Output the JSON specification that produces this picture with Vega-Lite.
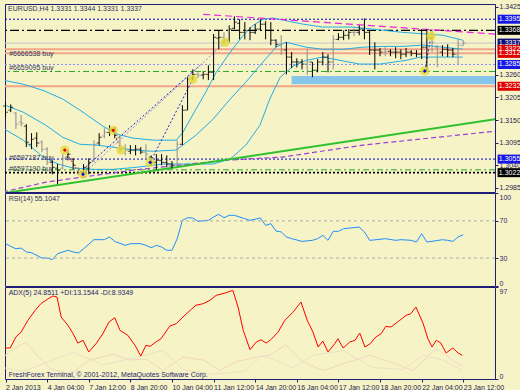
{
"$schema": "https://vega.github.io/schema/vega-lite/v6.json",
"background": "#F6F3C6",
"padding": {"left": 2, "top": 2, "right": 0, "bottom": 0},
"bounds": "flush",
"spacing": 1,
"config": {
  "font": "Liberation Sans",
  "view": {"stroke": "#1E1E78", "strokeWidth": 1},
  "axis": {"labelFont": "Liberation Sans", "labelFontSize": 7, "labelColor": "#1E1E50", "tickColor": "#1E1E78", "tickSize": 3, "domain": false, "grid": false, "labelPadding": 1},
  "text": {"font": "Liberation Sans", "fontSize": 7},
  "legend": {"disable": true}
},
"datasets": {
  "bars": [
    {"i":0,"o":1.3184,"h":1.3193,"l":1.3157,"c":1.3169,"d":"up"},
    {"i":1,"o":1.3174,"h":1.3188,"l":1.3169,"c":1.3181,"d":"up"},
    {"i":2,"o":1.3167,"h":1.3169,"l":1.3128,"c":1.3140,"d":"down"},
    {"i":3,"o":1.3145,"h":1.3162,"l":1.3135,"c":1.3142,"d":"down"},
    {"i":4,"o":1.3135,"h":1.3140,"l":1.3084,"c":1.3096,"d":"up"},
    {"i":5,"o":1.3091,"h":1.3118,"l":1.3079,"c":1.3103,"d":"up"},
    {"i":6,"o":1.3106,"h":1.3120,"l":1.3084,"c":1.3094,"d":"up"},
    {"i":7,"o":1.3096,"h":1.3101,"l":1.3072,"c":1.3079,"d":"down"},
    {"i":8,"o":1.3079,"h":1.3084,"l":1.3040,"c":1.3047,"d":"down"},
    {"i":9,"o":1.3047,"h":1.3052,"l":1.3018,"c":1.3035,"d":"up"},
    {"i":10,"o":1.3033,"h":1.3043,"l":1.2994,"c":1.3028,"d":"up"},
    {"i":11,"o":1.3033,"h":1.3067,"l":1.3030,"c":1.3057,"d":"down"},
    {"i":12,"o":1.3060,"h":1.3077,"l":1.3052,"c":1.3067,"d":"up"},
    {"i":13,"o":1.3055,"h":1.3057,"l":1.3030,"c":1.3040,"d":"up"},
    {"i":14,"o":1.3033,"h":1.3035,"l":1.3016,"c":1.3023,"d":"down"},
    {"i":15,"o":1.3023,"h":1.3043,"l":1.3016,"c":1.3035,"d":"up"},
    {"i":16,"o":1.3033,"h":1.3057,"l":1.3018,"c":1.3047,"d":"up"},
    {"i":17,"o":1.3052,"h":1.3101,"l":1.3047,"c":1.3091,"d":"down"},
    {"i":18,"o":1.3094,"h":1.3118,"l":1.3089,"c":1.3108,"d":"up"},
    {"i":19,"o":1.3111,"h":1.3130,"l":1.3106,"c":1.3120,"d":"down"},
    {"i":20,"o":1.3120,"h":1.3137,"l":1.3111,"c":1.3128,"d":"up"},
    {"i":21,"o":1.3125,"h":1.3133,"l":1.3106,"c":1.3113,"d":"up"},
    {"i":22,"o":1.3108,"h":1.3113,"l":1.3072,"c":1.3084,"d":"down"},
    {"i":23,"o":1.3081,"h":1.3091,"l":1.3064,"c":1.3077,"d":"down"},
    {"i":24,"o":1.3074,"h":1.3089,"l":1.3067,"c":1.3077,"d":"up"},
    {"i":25,"o":1.3077,"h":1.3089,"l":1.3064,"c":1.3079,"d":"up"},
    {"i":26,"o":1.3079,"h":1.3084,"l":1.3067,"c":1.3072,"d":"up"},
    {"i":27,"o":1.3072,"h":1.3091,"l":1.3055,"c":1.3067,"d":"down"},
    {"i":28,"o":1.3060,"h":1.3064,"l":1.3038,"c":1.3047,"d":"up"},
    {"i":29,"o":1.3047,"h":1.3067,"l":1.3030,"c":1.3052,"d":"up"},
    {"i":30,"o":1.3052,"h":1.3067,"l":1.3040,"c":1.3047,"d":"up"},
    {"i":31,"o":1.3047,"h":1.3064,"l":1.3035,"c":1.3043,"d":"up"},
    {"i":32,"o":1.3043,"h":1.3050,"l":1.3033,"c":1.3040,"d":"up"},
    {"i":33,"o":1.3040,"h":1.3101,"l":1.3038,"c":1.3091,"d":"down"},
    {"i":34,"o":1.3091,"h":1.3186,"l":1.3089,"c":1.3174,"d":"up"},
    {"i":35,"o":1.3174,"h":1.3254,"l":1.3174,"c":1.3249,"d":"up"},
    {"i":36,"o":1.3252,"h":1.3273,"l":1.3247,"c":1.3261,"d":"up"},
    {"i":37,"o":1.3261,"h":1.3266,"l":1.3252,"c":1.3259,"d":"down"},
    {"i":38,"o":1.3259,"h":1.3269,"l":1.3249,"c":1.3261,"d":"up"},
    {"i":39,"o":1.3261,"h":1.3283,"l":1.3247,"c":1.3266,"d":"up"},
    {"i":40,"o":1.3266,"h":1.3359,"l":1.3247,"c":1.3351,"d":"up"},
    {"i":41,"o":1.3349,"h":1.3368,"l":1.3322,"c":1.3351,"d":"up"},
    {"i":42,"o":1.3351,"h":1.3363,"l":1.3334,"c":1.3344,"d":"down"},
    {"i":43,"o":1.3344,"h":1.3380,"l":1.3339,"c":1.3371,"d":"up"},
    {"i":44,"o":1.3373,"h":1.3402,"l":1.3371,"c":1.3388,"d":"up"},
    {"i":45,"o":1.3385,"h":1.3395,"l":1.3346,"c":1.3363,"d":"up"},
    {"i":46,"o":1.3363,"h":1.3388,"l":1.3346,"c":1.3368,"d":"up"},
    {"i":47,"o":1.3368,"h":1.3376,"l":1.3344,"c":1.3363,"d":"up"},
    {"i":48,"o":1.3363,"h":1.3383,"l":1.3359,"c":1.3371,"d":"up"},
    {"i":49,"o":1.3371,"h":1.3395,"l":1.3368,"c":1.3383,"d":"up"},
    {"i":50,"o":1.3383,"h":1.3390,"l":1.3346,"c":1.3368,"d":"up"},
    {"i":51,"o":1.3368,"h":1.3388,"l":1.3332,"c":1.3344,"d":"up"},
    {"i":52,"o":1.3344,"h":1.3346,"l":1.3327,"c":1.3334,"d":"up"},
    {"i":53,"o":1.3334,"h":1.3356,"l":1.3308,"c":1.3320,"d":"down"},
    {"i":54,"o":1.3320,"h":1.3339,"l":1.3261,"c":1.3303,"d":"up"},
    {"i":55,"o":1.3303,"h":1.3315,"l":1.3276,"c":1.3291,"d":"up"},
    {"i":56,"o":1.3291,"h":1.3300,"l":1.3278,"c":1.3291,"d":"up"},
    {"i":57,"o":1.3291,"h":1.3298,"l":1.3273,"c":1.3286,"d":"up"},
    {"i":58,"o":1.3286,"h":1.3322,"l":1.3259,"c":1.3291,"d":"down"},
    {"i":59,"o":1.3291,"h":1.3291,"l":1.3254,"c":1.3271,"d":"up"},
    {"i":60,"o":1.3271,"h":1.3298,"l":1.3266,"c":1.3291,"d":"up"},
    {"i":61,"o":1.3291,"h":1.3315,"l":1.3283,"c":1.3303,"d":"up"},
    {"i":62,"o":1.3303,"h":1.3310,"l":1.3266,"c":1.3291,"d":"up"},
    {"i":63,"o":1.3291,"h":1.3356,"l":1.3273,"c":1.3346,"d":"down"},
    {"i":64,"o":1.3346,"h":1.3361,"l":1.3344,"c":1.3351,"d":"up"},
    {"i":65,"o":1.3351,"h":1.3368,"l":1.3344,"c":1.3356,"d":"up"},
    {"i":66,"o":1.3356,"h":1.3371,"l":1.3346,"c":1.3363,"d":"up"},
    {"i":67,"o":1.3363,"h":1.3373,"l":1.3354,"c":1.3363,"d":"down"},
    {"i":68,"o":1.3363,"h":1.3380,"l":1.3356,"c":1.3371,"d":"up"},
    {"i":69,"o":1.3371,"h":1.3397,"l":1.3346,"c":1.3363,"d":"up"},
    {"i":70,"o":1.3363,"h":1.3368,"l":1.3308,"c":1.3320,"d":"up"},
    {"i":71,"o":1.3320,"h":1.3339,"l":1.3273,"c":1.3320,"d":"up"},
    {"i":72,"o":1.3320,"h":1.3325,"l":1.3305,"c":1.3315,"d":"up"},
    {"i":73,"o":1.3315,"h":1.3327,"l":1.3305,"c":1.3317,"d":"down"},
    {"i":74,"o":1.3317,"h":1.3322,"l":1.3305,"c":1.3315,"d":"up"},
    {"i":75,"o":1.3315,"h":1.3327,"l":1.3300,"c":1.3315,"d":"up"},
    {"i":76,"o":1.3315,"h":1.3322,"l":1.3298,"c":1.3310,"d":"up"},
    {"i":77,"o":1.3310,"h":1.3325,"l":1.3303,"c":1.3315,"d":"up"},
    {"i":78,"o":1.3315,"h":1.3320,"l":1.3305,"c":1.3312,"d":"up"},
    {"i":79,"o":1.3312,"h":1.3320,"l":1.3303,"c":1.3310,"d":"up"},
    {"i":80,"o":1.3310,"h":1.3371,"l":1.3298,"c":1.3327,"d":"up"},
    {"i":81,"o":1.3327,"h":1.3371,"l":1.3266,"c":1.3351,"d":"up"},
    {"i":82,"o":1.3351,"h":1.3371,"l":1.3315,"c":1.3339,"d":"down"},
    {"i":83,"o":1.3327,"h":1.3332,"l":1.3278,"c":1.3315,"d":"down"},
    {"i":84,"o":1.3315,"h":1.3332,"l":1.3305,"c":1.3322,"d":"up"},
    {"i":85,"o":1.3322,"h":1.3334,"l":1.3303,"c":1.3320,"d":"up"},
    {"i":86,"o":1.3320,"h":1.3325,"l":1.3303,"c":1.3310,"d":"up"},
    {"i":87,"o":1.3310,"h":1.3346,"l":1.3286,"c":1.3332,"d":"down"},
    {"i":88,"o":1.3331,"h":1.3344,"l":1.3331,"c":1.3337,"d":"down"}
  ],
  "bb": [
    {"band":"u","i":-0.5,"p":1.3247},{"band":"u","i":3.4,"p":1.3237},{"band":"u","i":7.2,"p":1.3222},{"band":"u","i":11.0,"p":1.3201},{"band":"u","i":14.9,"p":1.3169},{"band":"u","i":18.7,"p":1.3135},{"band":"u","i":21.6,"p":1.3115},{"band":"u","i":24.5,"p":1.3106},{"band":"u","i":28.4,"p":1.3101},{"band":"u","i":32.8,"p":1.3101},{"band":"u","i":34.1,"p":1.3120},{"band":"u","i":36.6,"p":1.3176},{"band":"u","i":38.5,"p":1.3218},{"band":"u","i":40.5,"p":1.3266},{"band":"u","i":43.2,"p":1.3315},{"band":"u","i":45.7,"p":1.3356},{"band":"u","i":47.6,"p":1.3380},{"band":"u","i":49.5,"p":1.3395},{"band":"u","i":51.4,"p":1.3398},{"band":"u","i":53.3,"p":1.3393},{"band":"u","i":57.2,"p":1.3383},{"band":"u","i":61.0,"p":1.3376},{"band":"u","i":66.8,"p":1.3376},{"band":"u","i":70.6,"p":1.3371},{"band":"u","i":76.4,"p":1.3363},{"band":"u","i":84.1,"p":1.3356},{"band":"u","i":87.9,"p":1.3344},
    {"band":"m","i":-0.5,"p":1.3188},{"band":"m","i":3.4,"p":1.3169},{"band":"m","i":7.8,"p":1.3137},{"band":"m","i":11.0,"p":1.3108},{"band":"m","i":14.3,"p":1.3091},{"band":"m","i":17.4,"p":1.3089},{"band":"m","i":20.7,"p":1.3084},{"band":"m","i":24.5,"p":1.3077},{"band":"m","i":28.4,"p":1.3074},{"band":"m","i":32.8,"p":1.3077},{"band":"m","i":34.1,"p":1.3089},{"band":"m","i":36.6,"p":1.3113},{"band":"m","i":39.9,"p":1.3152},{"band":"m","i":43.2,"p":1.3201},{"band":"m","i":46.2,"p":1.3242},{"band":"m","i":49.5,"p":1.3291},{"band":"m","i":52.0,"p":1.3327},{"band":"m","i":53.9,"p":1.3339},{"band":"m","i":57.8,"p":1.3327},{"band":"m","i":61.0,"p":1.3322},{"band":"m","i":64.9,"p":1.3322},{"band":"m","i":68.7,"p":1.3327},{"band":"m","i":72.6,"p":1.3329},{"band":"m","i":76.4,"p":1.3329},{"band":"m","i":80.3,"p":1.3332},{"band":"m","i":84.1,"p":1.3327},{"band":"m","i":87.9,"p":1.3322},
    {"band":"l","i":-0.5,"p":1.3130},{"band":"l","i":3.4,"p":1.3101},{"band":"l","i":7.2,"p":1.3060},{"band":"l","i":10.1,"p":1.3043},{"band":"l","i":13.0,"p":1.3033},{"band":"l","i":16.8,"p":1.3030},{"band":"l","i":20.7,"p":1.3030},{"band":"l","i":25.1,"p":1.3035},{"band":"l","i":30.3,"p":1.3043},{"band":"l","i":39.9,"p":1.3043},{"band":"l","i":43.2,"p":1.3055},{"band":"l","i":46.2,"p":1.3089},{"band":"l","i":48.9,"p":1.3137},{"band":"l","i":50.8,"p":1.3201},{"band":"l","i":52.8,"p":1.3254},{"band":"l","i":55.3,"p":1.3281},{"band":"l","i":57.8,"p":1.3295},{"band":"l","i":61.0,"p":1.3303},{"band":"l","i":64.3,"p":1.3295},{"band":"l","i":68.1,"p":1.3286},{"band":"l","i":72.0,"p":1.3286},{"band":"l","i":77.0,"p":1.3295},{"band":"l","i":79.7,"p":1.3303},{"band":"l","i":83.5,"p":1.3303},{"band":"l","i":87.9,"p":1.3303}
  ],
  "ma": [{"i":-0.5,"p":1.2975},{"i":7.8,"p":1.2999},{"i":24.5,"p":1.3028},{"i":41.8,"p":1.3052},{"i":53.3,"p":1.3060},{"i":68.7,"p":1.3089},{"i":94.3,"p":1.3123}],
  "trend": [{"i":-0.5,"p":1.2972},{"i":94.3,"p":1.3152}],
  "magenta": [{"i":38.0,"p":1.3407},{"i":94.1,"p":1.3359}],
  "zone": [{"i":55.0,"i2":94.1,"p":1.3257,"p2":1.3237}],
  "levels": [
    {"p":1.3322,"kind":"salmon"},{"p":1.3312,"kind":"salmon"},{"p":1.3232,"kind":"salmon"},
    {"p":1.3337,"kind":"bid"},
    {"p":1.3268,"kind":"green"},{"p":1.3029,"kind":"green"},
    {"p":1.3395,"kind":"blue"},{"p":1.3055,"kind":"blue"},
    {"p":1.3285,"kind":"lavender"},
    {"p":1.3368,"kind":"dashdot"},
    {"p":1.3022,"kind":"dotted"}
  ],
  "tradelines": [
    {"id":"a","kind":"blue","i":14.3,"p":1.3023},{"id":"a","kind":"blue","i":37.4,"p":1.3283},
    {"id":"b","kind":"lite","i":14.9,"p":1.3018},{"id":"b","kind":"lite","i":42.2,"p":1.3339},
    {"id":"c","kind":"blue","i":27.8,"p":1.3047},{"id":"c","kind":"blue","i":36.0,"p":1.3249},
    {"id":"d","kind":"red","i":11.4,"p":1.3077},{"id":"d","kind":"red","i":14.0,"p":1.3023},
    {"id":"e","kind":"red","i":20.7,"p":1.3125},{"id":"e","kind":"red","i":22.2,"p":1.3077},
    {"id":"f","kind":"blue","i":80.6,"p":1.3269},{"id":"f","kind":"blue","i":81.8,"p":1.3354}
  ],
  "markers": [
    {"i":11.4,"p":1.3077,"side":"red"},{"i":14.9,"p":1.3018,"side":"blue"},{"i":20.7,"p":1.3125,"side":"red"},
    {"i":22.2,"p":1.3077,"side":"none"},{"i":27.8,"p":1.3047,"side":"blue"},{"i":36.0,"p":1.3249,"side":"none"},
    {"i":42.2,"p":1.3339,"side":"none"},{"i":81.8,"p":1.3354,"side":"none"},{"i":80.6,"p":1.3269,"side":"blue"}
  ],
  "notes": [
    {"i":0.5,"p":1.3419,"text":"EURUSD,H4  1.3331 1.3344 1.3331 1.3337"},
    {"i":0.7,"p":1.3310,"text":"#6666538 buy"},
    {"i":0.7,"p":1.3276,"text":"#6659095 buy"},
    {"i":0.7,"p":1.3058,"text":"#6597187 buy"},
    {"i":0.7,"p":1.3031,"text":"#6597190 buy"}
  ],
  "tags": [
    {"p":1.3395,"label":"1.3395","kind":"blue"},
    {"p":1.3368,"label":"1.3368","kind":"black"},
    {"p":1.3337,"label":"1.3337","kind":"navy"},
    {"p":1.3322,"label":"1.3322","kind":"red"},
    {"p":1.3312,"label":"1.3312","kind":"red"},
    {"p":1.3285,"label":"1.3285","kind":"blue"},
    {"p":1.3232,"label":"1.3232","kind":"red"},
    {"p":1.3055,"label":"1.3055","kind":"blue"},
    {"p":1.3022,"label":"1.3022","kind":"black"}
  ],
  "rsi": [
    {"i":0,"v":45.5},{"i":1,"v":42.7},{"i":2,"v":40},{"i":3,"v":40.8},{"i":4,"v":36.6},{"i":5,"v":35.8},{"i":7,"v":30.1},{"i":8,"v":30.1},{"i":9,"v":28.3},{"i":10,"v":34.7},{"i":12,"v":38.4},{"i":13,"v":36.6},{"i":14,"v":35.5},{"i":15,"v":40},{"i":17,"v":49.8},{"i":19,"v":49.8},{"i":20,"v":52.7},{"i":21,"v":48},{"i":23,"v":43.7},{"i":24,"v":45.5},{"i":26,"v":45.5},{"i":27,"v":43.7},{"i":28,"v":41.2},{"i":29,"v":43.7},{"i":30,"v":41.9},{"i":31,"v":38.4},{"i":32,"v":38.4},{"i":33,"v":50.9},{"i":34,"v":70.6},{"i":35,"v":73.4},{"i":36,"v":73.1},{"i":37,"v":69.6},{"i":39,"v":70.6},{"i":40,"v":74.2},{"i":41,"v":77.1},{"i":42,"v":73.4},{"i":43,"v":76},{"i":44,"v":76},{"i":46,"v":72.4},{"i":47,"v":70.6},{"i":49,"v":73.1},{"i":50,"v":65.2},{"i":51,"v":67},{"i":52,"v":59.1},{"i":53,"v":58.1},{"i":54,"v":52.7},{"i":55,"v":50.9},{"i":57,"v":48},{"i":59,"v":49.1},{"i":60,"v":50.9},{"i":61,"v":54.5},{"i":62,"v":49.1},{"i":63,"v":58.8},{"i":64,"v":58.8},{"i":65,"v":61.6},{"i":68,"v":63.4},{"i":69,"v":58.1},{"i":70,"v":49.1},{"i":72,"v":50.2},{"i":73,"v":50.9},{"i":75,"v":49.1},{"i":76,"v":49.8},{"i":78,"v":49.1},{"i":79,"v":47.3},{"i":80,"v":56.2},{"i":81,"v":47.3},{"i":82,"v":48},{"i":84,"v":49.8},{"i":85,"v":49.1},{"i":86,"v":48},{"i":87,"v":52.7},{"i":88,"v":55.1}
  ],
  "rsilevels": [{"v":70},{"v":30}],
  "rsinotes": [{"i":0.6,"v":93.5,"text":"RSI(14) 55.1047"}],
  "adx": [
    {"i":-0.5,"v":32.7},{"i":0.9,"v":32.7},{"i":2.0,"v":44.3},{"i":3.0,"v":49.5},{"i":4.3,"v":61.9},{"i":5.7,"v":72.4},{"i":6.8,"v":79.4},{"i":8.2,"v":84.6},{"i":9.1,"v":87.5},{"i":9.9,"v":86.4},{"i":10.7,"v":65.3},{"i":12.0,"v":56.6},{"i":13.0,"v":47.7},{"i":13.9,"v":37.9},{"i":14.9,"v":40.8},{"i":16.0,"v":28.5},{"i":17.4,"v":37.2},{"i":18.7,"v":47.7},{"i":19.9,"v":60.1},{"i":21.0,"v":64.6},{"i":22.0,"v":51.3},{"i":23.5,"v":46.1},{"i":24.9,"v":35.5},{"i":26.0,"v":24.2},{"i":27.0,"v":35.5},{"i":27.8,"v":34.5},{"i":28.9,"v":39},{"i":29.9,"v":42.5},{"i":31.6,"v":55.9},{"i":32.8,"v":58.3},{"i":34.1,"v":65.3},{"i":35.5,"v":72.4},{"i":36.6,"v":77.7},{"i":38.0,"v":79.4},{"i":39.3,"v":83},{"i":40.5,"v":88.2},{"i":42.2,"v":90.6},{"i":43.7,"v":93.5},{"i":44.7,"v":75.9},{"i":45.7,"v":51.3},{"i":47.0,"v":30.9},{"i":48.2,"v":39},{"i":49.1,"v":41.4},{"i":50.1,"v":37.9},{"i":51.0,"v":41.4},{"i":52.4,"v":49.5},{"i":53.7,"v":61.9},{"i":55.3,"v":70.6},{"i":56.8,"v":81.2},{"i":58.0,"v":61.9},{"i":59.1,"v":49.5},{"i":60.1,"v":33.7},{"i":61.0,"v":40},{"i":62.0,"v":28.5},{"i":63.3,"v":37.2},{"i":63.9,"v":42.5},{"i":64.9,"v":32.7},{"i":66.2,"v":39},{"i":67.2,"v":40.8},{"i":68.1,"v":48.5},{"i":69.1,"v":33.7},{"i":70.1,"v":37.2},{"i":71.2,"v":44.3},{"i":72.2,"v":47.7},{"i":73.1,"v":55.5},{"i":74.1,"v":54.8},{"i":75.8,"v":61.9},{"i":77.0,"v":67.1},{"i":77.9,"v":68.8},{"i":78.9,"v":75.9},{"i":80.3,"v":58.3},{"i":81.2,"v":42.5},{"i":82.0,"v":33.7},{"i":82.8,"v":40.8},{"i":83.7,"v":37.9},{"i":84.7,"v":27.4},{"i":86.0,"v":32.7},{"i":87.0,"v":27.4},{"i":87.8,"v":24.9}
  ],
  "di": [
    {"line":"plus","i":-0.5,"v":23},{"line":"plus","i":1.1,"v":30},{"line":"plus","i":3.9,"v":39},{"line":"plus","i":5.9,"v":26},{"line":"plus","i":8.6,"v":11},{"line":"plus","i":12.4,"v":5},{"line":"plus","i":16.2,"v":20},{"line":"plus","i":20.7,"v":26},{"line":"plus","i":23.9,"v":20},{"line":"plus","i":27.0,"v":21},{"line":"plus","i":30.3,"v":9},{"line":"plus","i":34.1,"v":23},{"line":"plus","i":38.0,"v":20},{"line":"plus","i":41.2,"v":9},{"line":"plus","i":44.3,"v":18},{"line":"plus","i":48.2,"v":23},{"line":"plus","i":50.8,"v":25},{"line":"plus","i":53.9,"v":36},{"line":"plus","i":57.2,"v":18},{"line":"plus","i":61.0,"v":9},{"line":"plus","i":64.9,"v":16},{"line":"plus","i":70.1,"v":25},{"line":"plus","i":73.9,"v":18},{"line":"plus","i":78.3,"v":9},{"line":"plus","i":82.8,"v":32},{"line":"plus","i":87.8,"v":13},
    {"line":"minus","i":-0.5,"v":12},{"line":"minus","i":3.4,"v":8},{"line":"minus","i":9.1,"v":20},{"line":"minus","i":13.0,"v":28},{"line":"minus","i":18.7,"v":15},{"line":"minus","i":24.5,"v":22},{"line":"minus","i":30.3,"v":30},{"line":"minus","i":34.1,"v":10},{"line":"minus","i":39.9,"v":5},{"line":"minus","i":45.7,"v":8},{"line":"minus","i":49.5,"v":25},{"line":"minus","i":55.3,"v":12},{"line":"minus","i":59.1,"v":25},{"line":"minus","i":64.9,"v":30},{"line":"minus","i":70.6,"v":12},{"line":"minus","i":76.4,"v":10},{"line":"minus","i":80.3,"v":25},{"line":"minus","i":84.1,"v":20},{"line":"minus","i":87.8,"v":9}
  ],
  "adxnotes": [
    {"i":0.6,"v":90.6,"text":"ADX(5) 24.8511 +DI:13.1544 -DI:8.9349"},
    {"i":0.6,"v":4.5,"text":"FreshForex Terminal, © 2001-2012, MetaQuotes Software Corp."}
  ]
},
"vconcat": [
  {
    "width": 490, "height": 188,
    "resolve": {"scale": {"color": "independent"}},
    "layer": [
      {"data": {"name": "zone"}, "mark": {"type": "rect", "color": "#86C6EA"},
       "encoding": {
         "x": {"field": "i", "type": "quantitative", "scale": {"domain": [-0.1, 94.1], "nice": false, "zero": false}, "axis": {"labels": false, "ticks": false, "title": null}},
         "x2": {"field": "i2"},
         "y": {"field": "p", "type": "quantitative", "scale": {"domain": [1.2975, 1.3432], "nice": false, "zero": false},
               "axis": {"orient": "right", "title": null, "values": [1.2985, 1.304, 1.3095, 1.315, 1.3205, 1.326, 1.3425], "format": ".4f", "labelOverlap": false}},
         "y2": {"field": "p2"}}},
      {"data": {"name": "levels"}, "transform": [{"filter": "datum.kind == 'salmon'"}],
       "mark": {"type": "rule", "color": "#F2A488", "strokeWidth": 2},
       "encoding": {"y": {"field": "p", "type": "quantitative", "axis": {"orient": "right", "title": null, "values": [1.2985, 1.304, 1.3095, 1.315, 1.3205, 1.326, 1.3425], "format": ".4f", "labelOverlap": false}}}},
      {"data": {"name": "levels"}, "transform": [{"filter": "datum.kind == 'bid'"}],
       "mark": {"type": "rule", "color": "#C4C4C4", "strokeWidth": 1},
       "encoding": {"y": {"field": "p", "type": "quantitative", "axis": {"orient": "right", "title": null, "values": [1.2985, 1.304, 1.3095, 1.315, 1.3205, 1.326, 1.3425], "format": ".4f", "labelOverlap": false}}}},
      {"data": {"name": "levels"}, "transform": [{"filter": "datum.kind == 'green'"}],
       "mark": {"type": "rule", "color": "#22AA22", "strokeWidth": 1, "strokeDash": [6, 3, 2, 3]},
       "encoding": {"y": {"field": "p", "type": "quantitative", "axis": {"orient": "right", "title": null, "values": [1.2985, 1.304, 1.3095, 1.315, 1.3205, 1.326, 1.3425], "format": ".4f", "labelOverlap": false}}}},
      {"data": {"name": "levels"}, "transform": [{"filter": "datum.kind == 'blue'"}],
       "mark": {"type": "rule", "color": "#0000DD", "strokeWidth": 1, "strokeDash": [2, 2]},
       "encoding": {"y": {"field": "p", "type": "quantitative", "axis": {"orient": "right", "title": null, "values": [1.2985, 1.304, 1.3095, 1.315, 1.3205, 1.326, 1.3425], "format": ".4f", "labelOverlap": false}}}},
      {"data": {"name": "levels"}, "transform": [{"filter": "datum.kind == 'lavender'"}],
       "mark": {"type": "rule", "color": "#8A8AF0", "strokeWidth": 1, "strokeDash": [2, 2]},
       "encoding": {"y": {"field": "p", "type": "quantitative", "axis": {"orient": "right", "title": null, "values": [1.2985, 1.304, 1.3095, 1.315, 1.3205, 1.326, 1.3425], "format": ".4f", "labelOverlap": false}}}},
      {"data": {"name": "levels"}, "transform": [{"filter": "datum.kind == 'dashdot'"}],
       "mark": {"type": "rule", "color": "#000000", "strokeWidth": 1.2, "strokeDash": [9, 3, 2, 3]},
       "encoding": {"y": {"field": "p", "type": "quantitative", "axis": {"orient": "right", "title": null, "values": [1.2985, 1.304, 1.3095, 1.315, 1.3205, 1.326, 1.3425], "format": ".4f", "labelOverlap": false}}}},
      {"data": {"name": "levels"}, "transform": [{"filter": "datum.kind == 'dotted'"}],
       "mark": {"type": "rule", "color": "#000000", "strokeWidth": 1.6, "strokeDash": [2, 2]},
       "encoding": {"y": {"field": "p", "type": "quantitative", "axis": {"orient": "right", "title": null, "values": [1.2985, 1.304, 1.3095, 1.315, 1.3205, 1.326, 1.3425], "format": ".4f", "labelOverlap": false}}}},
      {"data": {"name": "bb"}, "mark": {"type": "line", "color": "#22AEE6", "strokeWidth": 1, "clip": true},
       "encoding": {"x": {"field": "i", "type": "quantitative", "axis": {"labels": false, "ticks": false, "title": null}}, "y": {"field": "p", "type": "quantitative", "axis": {"orient": "right", "title": null, "values": [1.2985, 1.304, 1.3095, 1.315, 1.3205, 1.326, 1.3425], "format": ".4f", "labelOverlap": false}}, "detail": {"field": "band"}}},
      {"data": {"name": "ma"}, "mark": {"type": "line", "color": "#9B3FD8", "strokeWidth": 1.2, "strokeDash": [5, 3], "clip": true},
       "encoding": {"x": {"field": "i", "type": "quantitative", "axis": {"labels": false, "ticks": false, "title": null}}, "y": {"field": "p", "type": "quantitative", "axis": {"orient": "right", "title": null, "values": [1.2985, 1.304, 1.3095, 1.315, 1.3205, 1.326, 1.3425], "format": ".4f", "labelOverlap": false}}}},
      {"data": {"name": "magenta"}, "mark": {"type": "line", "color": "#F020E0", "strokeWidth": 1.2, "strokeDash": [7, 4], "clip": true},
       "encoding": {"x": {"field": "i", "type": "quantitative", "axis": {"labels": false, "ticks": false, "title": null}}, "y": {"field": "p", "type": "quantitative", "axis": {"orient": "right", "title": null, "values": [1.2985, 1.304, 1.3095, 1.315, 1.3205, 1.326, 1.3425], "format": ".4f", "labelOverlap": false}}}},
      {"data": {"name": "trend"}, "mark": {"type": "line", "color": "#2EC22E", "strokeWidth": 2, "clip": true},
       "encoding": {"x": {"field": "i", "type": "quantitative", "axis": {"labels": false, "ticks": false, "title": null}}, "y": {"field": "p", "type": "quantitative", "axis": {"orient": "right", "title": null, "values": [1.2985, 1.304, 1.3095, 1.315, 1.3205, 1.326, 1.3425], "format": ".4f", "labelOverlap": false}}}},
      {"data": {"name": "tradelines"}, "mark": {"type": "line", "strokeWidth": 1, "strokeDash": [2, 2], "clip": true},
       "encoding": {"x": {"field": "i", "type": "quantitative", "axis": {"labels": false, "ticks": false, "title": null}}, "y": {"field": "p", "type": "quantitative", "axis": {"orient": "right", "title": null, "values": [1.2985, 1.304, 1.3095, 1.315, 1.3205, 1.326, 1.3425], "format": ".4f", "labelOverlap": false}},
                    "detail": {"field": "id"}, "color": {"field": "kind", "type": "nominal", "scale": {"domain": ["blue", "lite", "red"], "range": ["#2020D8", "#9090C8", "#E03030"]}, "legend": null}}},
      {"data": {"name": "bars"}, "mark": {"type": "rule", "strokeWidth": 1},
       "encoding": {"x": {"field": "i", "type": "quantitative", "axis": {"labels": false, "ticks": false, "title": null}}, "y": {"field": "l", "type": "quantitative", "axis": {"orient": "right", "title": null, "values": [1.2985, 1.304, 1.3095, 1.315, 1.3205, 1.326, 1.3425], "format": ".4f", "labelOverlap": false}}, "y2": {"field": "h"},
                    "color": {"field": "d", "type": "nominal", "scale": {"domain": ["up", "down"], "range": ["#000000", "#8C8C8C"]}, "legend": null}}},
      {"data": {"name": "bars"}, "mark": {"type": "tick", "orient": "horizontal", "size": 2.5, "thickness": 1, "xOffset": -1.25},
       "encoding": {"x": {"field": "i", "type": "quantitative", "axis": {"labels": false, "ticks": false, "title": null}}, "y": {"field": "o", "type": "quantitative", "axis": {"orient": "right", "title": null, "values": [1.2985, 1.304, 1.3095, 1.315, 1.3205, 1.326, 1.3425], "format": ".4f", "labelOverlap": false}},
                    "color": {"field": "d", "type": "nominal", "scale": {"domain": ["up", "down"], "range": ["#000000", "#8C8C8C"]}, "legend": null}}},
      {"data": {"name": "bars"}, "mark": {"type": "tick", "orient": "horizontal", "size": 2.5, "thickness": 1, "xOffset": 1.25},
       "encoding": {"x": {"field": "i", "type": "quantitative", "axis": {"labels": false, "ticks": false, "title": null}}, "y": {"field": "c", "type": "quantitative", "axis": {"orient": "right", "title": null, "values": [1.2985, 1.304, 1.3095, 1.315, 1.3205, 1.326, 1.3425], "format": ".4f", "labelOverlap": false}},
                    "color": {"field": "d", "type": "nominal", "scale": {"domain": ["up", "down"], "range": ["#000000", "#8C8C8C"]}, "legend": null}}},
      {"data": {"name": "markers"}, "mark": {"type": "point", "filled": true, "size": 85, "color": "#E4DA3A", "opacity": 0.8},
       "encoding": {"x": {"field": "i", "type": "quantitative", "axis": {"labels": false, "ticks": false, "title": null}}, "y": {"field": "p", "type": "quantitative", "axis": {"orient": "right", "title": null, "values": [1.2985, 1.304, 1.3095, 1.315, 1.3205, 1.326, 1.3425], "format": ".4f", "labelOverlap": false}}}},
      {"data": {"name": "markers"}, "transform": [{"filter": "datum.side != 'none'"}],
       "mark": {"type": "point", "filled": true, "size": 14, "shape": "diamond", "opacity": 1},
       "encoding": {"x": {"field": "i", "type": "quantitative", "axis": {"labels": false, "ticks": false, "title": null}}, "y": {"field": "p", "type": "quantitative", "axis": {"orient": "right", "title": null, "values": [1.2985, 1.304, 1.3095, 1.315, 1.3205, 1.326, 1.3425], "format": ".4f", "labelOverlap": false}},
                    "color": {"field": "side", "type": "nominal", "scale": {"domain": ["red", "blue"], "range": ["#E00000", "#0000E0"]}, "legend": null}}},
      {"data": {"name": "notes"}, "mark": {"type": "text", "align": "left", "baseline": "middle", "fontSize": 7, "color": "#34345E"},
       "encoding": {"x": {"field": "i", "type": "quantitative", "axis": {"labels": false, "ticks": false, "title": null}}, "y": {"field": "p", "type": "quantitative", "axis": {"orient": "right", "title": null, "values": [1.2985, 1.304, 1.3095, 1.315, 1.3205, 1.326, 1.3425], "format": ".4f", "labelOverlap": false}}, "text": {"field": "text"}}},
      {"data": {"name": "tags"}, "mark": {"type": "rule", "strokeWidth": 9, "strokeCap": "butt"},
       "encoding": {"x": {"datum": 94.6, "type": "quantitative", "axis": {"labels": false, "ticks": false, "title": null}}, "x2": {"datum": 99.2}, "y": {"field": "p", "type": "quantitative", "axis": {"orient": "right", "title": null, "values": [1.2985, 1.304, 1.3095, 1.315, 1.3205, 1.326, 1.3425], "format": ".4f", "labelOverlap": false}},
                    "color": {"field": "kind", "type": "nominal", "scale": {"domain": ["blue", "black", "navy", "red"], "range": ["#1616E6", "#000000", "#0C0C7A", "#E00000"]}, "legend": null}}},
      {"data": {"name": "tags"}, "mark": {"type": "text", "align": "center", "baseline": "middle", "fontSize": 7, "color": "#FFFFFF"},
       "encoding": {"x": {"datum": 96.9, "type": "quantitative", "axis": {"labels": false, "ticks": false, "title": null}}, "y": {"field": "p", "type": "quantitative", "axis": {"orient": "right", "title": null, "values": [1.2985, 1.304, 1.3095, 1.315, 1.3205, 1.326, 1.3425], "format": ".4f", "labelOverlap": false}}, "text": {"field": "label"}}}
    ]
  },
  {
    "width": 490, "height": 93,
    "layer": [
      {"data": {"name": "rsi"}, "mark": {"type": "line", "color": "#1E90FF", "strokeWidth": 1},
       "encoding": {"x": {"field": "i", "type": "quantitative", "scale": {"domain": [-0.1, 94.1], "nice": false, "zero": false}, "axis": {"labels": false, "ticks": false, "title": null}},
                    "y": {"field": "v", "type": "quantitative", "scale": {"domain": [0, 100], "nice": false, "zero": false},
                          "axis": {"orient": "right", "title": null, "values": [0, 30, 70, 100], "labelFlush": true, "labelColor": "#302070", "labelOverlap": false}}}},
      {"data": {"name": "rsilevels"}, "mark": {"type": "rule", "color": "#ABABAB", "strokeWidth": 1, "strokeDash": [3, 3]},
       "encoding": {"y": {"field": "v", "type": "quantitative", "axis": {"orient": "right", "title": null, "values": [0, 30, 70, 100], "labelFlush": true, "labelColor": "#302070", "labelOverlap": false}}}},
      {"data": {"name": "rsinotes"}, "mark": {"type": "text", "align": "left", "baseline": "middle", "fontSize": 7, "color": "#34345E"},
       "encoding": {"x": {"field": "i", "type": "quantitative", "axis": {"labels": false, "ticks": false, "title": null}}, "y": {"field": "v", "type": "quantitative", "axis": {"orient": "right", "title": null, "values": [0, 30, 70, 100], "labelFlush": true, "labelColor": "#302070", "labelOverlap": false}}, "text": {"field": "text"}}}
    ]
  },
  {
    "width": 490, "height": 92,
    "layer": [
      {"data": {"name": "di"}, "mark": {"type": "line", "strokeWidth": 1, "clip": true},
       "encoding": {
         "x": {"field": "i", "type": "quantitative", "scale": {"domain": [-0.1, 94.1], "nice": false, "zero": false},
               "axis": {"orient": "bottom", "title": null, "values": [0, 8, 16, 24, 32, 40, 48, 56, 64, 72, 80, 88], "labelAlign": "left", "labelPadding": 1, "labelOverlap": false, "labelBound": false, "labelFlush": false, "labelExpr": "['2 Jan 2013','4 Jan 04:00','7 Jan 12:00','8 Jan 20:00','10 Jan 04:00','11 Jan 12:00','14 Jan 20:00','16 Jan 04:00','17 Jan 12:00','18 Jan 20:00','22 Jan 04:00','23 Jan 12:00'][round(datum.value / 8)]"}},
         "y": {"field": "v", "type": "quantitative", "scale": {"domain": [0, 97], "nice": false, "zero": false},
               "axis": {"orient": "right", "title": null, "values": [0, 97], "labelFlush": true, "labelColor": "#302070", "labelOverlap": false}},
         "detail": {"field": "line"},
         "color": {"field": "line", "type": "nominal", "scale": {"domain": ["plus", "minus"], "range": ["#F0D8C2", "#EEE0C6"]}, "legend": null}}},
      {"data": {"name": "adx"}, "mark": {"type": "line", "color": "#FF0000", "strokeWidth": 1, "clip": true},
       "encoding": {"x": {"field": "i", "type": "quantitative", "axis": {"orient": "bottom", "title": null, "values": [0, 8, 16, 24, 32, 40, 48, 56, 64, 72, 80, 88], "labelAlign": "left", "labelPadding": 1, "labelOverlap": false, "labelBound": false, "labelFlush": false, "labelExpr": "['2 Jan 2013','4 Jan 04:00','7 Jan 12:00','8 Jan 20:00','10 Jan 04:00','11 Jan 12:00','14 Jan 20:00','16 Jan 04:00','17 Jan 12:00','18 Jan 20:00','22 Jan 04:00','23 Jan 12:00'][round(datum.value / 8)]"}},
                    "y": {"field": "v", "type": "quantitative", "axis": {"orient": "right", "title": null, "values": [0, 97], "labelFlush": true, "labelColor": "#302070", "labelOverlap": false}}}},
      {"data": {"name": "adxnotes"}, "mark": {"type": "text", "align": "left", "baseline": "middle", "fontSize": 7, "color": "#262670"},
       "encoding": {"x": {"field": "i", "type": "quantitative", "axis": {"orient": "bottom", "title": null, "values": [0, 8, 16, 24, 32, 40, 48, 56, 64, 72, 80, 88], "labelAlign": "left", "labelPadding": 1, "labelOverlap": false, "labelBound": false, "labelFlush": false, "labelExpr": "['2 Jan 2013','4 Jan 04:00','7 Jan 12:00','8 Jan 20:00','10 Jan 04:00','11 Jan 12:00','14 Jan 20:00','16 Jan 04:00','17 Jan 12:00','18 Jan 20:00','22 Jan 04:00','23 Jan 12:00'][round(datum.value / 8)]"}},
                    "y": {"field": "v", "type": "quantitative", "axis": {"orient": "right", "title": null, "values": [0, 97], "labelFlush": true, "labelColor": "#302070", "labelOverlap": false}}, "text": {"field": "text"}}}
    ]
  }
]
}
